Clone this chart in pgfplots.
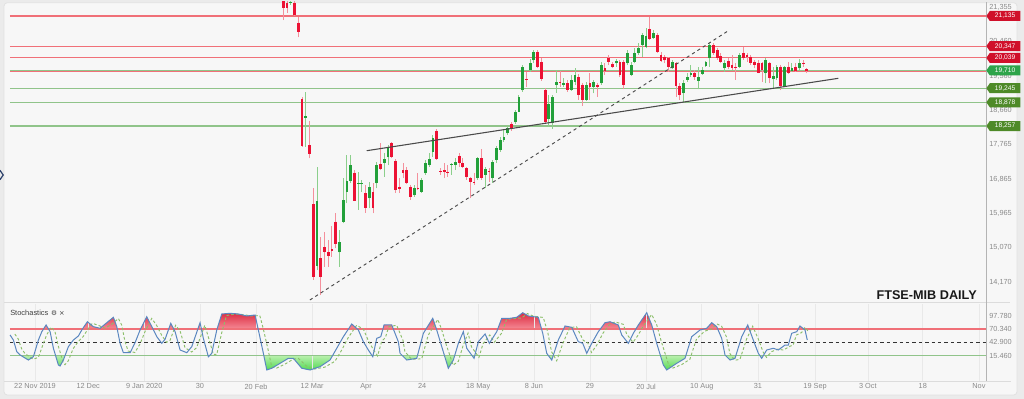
\documentclass[border=0pt]{standalone}
\usepackage{pgfplots}
\pgfplotsset{compat=1.18}
\usepackage{pgfplotstable}
\usepackage{fontspec}
\setmainfont{Liberation Sans}
\newfontfamily\dejavu{DejaVu Sans}
\usetikzlibrary{shapes.symbols}

\definecolor{bgout}{HTML}{EBEBEB}
\definecolor{panel}{HTML}{F7F7F7}
\definecolor{panelborder}{HTML}{E2E2E2}
\definecolor{tickc}{HTML}{8A8A8A}
\definecolor{sepc}{HTML}{DCDCDC}
\definecolor{axisc}{HTML}{B4B4B4}
\definecolor{gridc}{HTML}{E9E9E9}
\definecolor{bodyg}{HTML}{22A03A}
\definecolor{bodyr}{HTML}{EC1234}
\definecolor{wickg}{HTML}{8CCF8C}
\definecolor{wickr}{HTML}{F4909C}
\definecolor{lvred}{HTML}{F07078}
\definecolor{lvgreen}{HTML}{90C48A}
\definecolor{tagred}{HTML}{D0102A}
\definecolor{taggreen}{HTML}{2EA44A}
\definecolor{tagdark}{HTML}{4E8A28}
\definecolor{trend}{HTML}{4A4A4A}
\definecolor{kblue}{HTML}{5B87C0}
\definecolor{dgreen}{HTML}{8CBF6A}
\definecolor{redtop}{HTML}{DC2C42}
\definecolor{redbot}{HTML}{F58A95}
\definecolor{greentop}{HTML}{B8F0AC}
\definecolor{greenbot}{HTML}{55DA55}
\definecolor{navy}{HTML}{2A3F6A}

% gradients mapped onto the value range of the %K path (-13.9 .. 103.8)
\pgfdeclareverticalshading{redgrad}{100bp}{color(0bp)=(redbot); color(60.8bp)=(redbot); color(75bp)=(redtop); color(100bp)=(redtop)}
\pgfdeclareverticalshading{greengrad}{100bp}{color(0bp)=(greenbot); color(25bp)=(greenbot); color(37.5bp)=(greentop); color(100bp)=(greentop)}

\newcommand\ticksize{\fontsize{5.5}{6}\selectfont}

% daily candles: index, open, high, low, close
\pgfplotstableread{
i O H L C
67 21800 21950 21030 21344
68 21483 21554 21221 21336
69 21475 21600 21423 21501
70 21483 21554 21135 21161
71 20960 21117 20578 20724
72 18964 19024 17716 17742
73 18467 19147 17716 18506
74 17760 18396 17412 17525
75 16217 16628 14229 14315
76 14603 17193 14490 16303
77 14796 15346 13836 14300
78 15084 15492 14577 14953
79 14953 15275 14577 14864
80 15027 15642 14838 14999
81 15754 15974 15058 15163
82 14953 15537 14577 15231
83 15754 16889 15712 16322
84 16539 17499 16235 16819
85 16819 17499 16766 17237
86 17036 17106 16296 16303
87 16740 17062 16060 16766
88 16753 16845 16539 16779
89 16497 16714 15989 16104
90 16366 16800 16104 16670
91 16539 16758 15974 16104
92 16758 17324 16628 17237
93 17263 17805 17106 17125
94 17297 17543 16931 17386
95 17439 17760 17237 17700
96 17805 17847 17412 17439
97 17350 17386 16513 16583
98 16670 16889 16513 16601
99 17106 17282 16889 17036
100 17106 17193 16740 16758
101 16670 16714 16322 16392
102 16452 16714 16408 16628
103 16641 17020 16583 16609
104 16539 16889 16513 16845
105 17020 17368 16976 17297
106 17237 17543 17193 17386
107 17585 18022 17454 17936
108 18127 18171 17368 17386
109 17080 17151 16976 17046
110 17106 17282 16889 17062
111 17062 17237 16931 17020
112 17250 17297 16976 17276
113 17237 17412 17106 17324
114 17473 17543 17193 17297
115 17282 17412 17151 17193
116 17151 17193 16845 16931
117 16889 16931 16366 16800
118 16800 17020 16714 16758
119 16889 17454 16845 17412
120 17412 17648 16845 16889
121 16976 17193 16628 17125
122 17080 17151 16800 17041
123 16889 17368 16774 17324
124 17368 17734 17289 17682
125 17630 17970 17577 17891
126 17891 18153 17839 17978
127 18066 18257 18022 18197
128 18310 18362 18127 18179
129 18349 18676 18310 18631
130 18631 19068 18624 19016
131 19191 19853 19155 19788
132 19492 19678 19286 19466
133 19722 20002 19678 19913
134 19976 20246 19898 20201
135 20201 20233 19767 19788
136 19926 20028 19442 19492
137 19212 19244 18323 18362
138 18441 19068 18239 18833
139 18328 19068 18179 19024
140 19338 19704 19129 19403
141 19416 19704 19286 19374
142 19330 19505 19286 19374
143 19374 19461 19155 19199
144 19199 19592 19181 19461
145 19416 19767 19330 19592
146 19539 19618 18938 19068
147 19330 19374 18781 18938
148 18938 19416 18919 19330
149 19374 19636 18938 19286
150 19286 19461 19113 19416
151 19330 19390 19024 19270
152 19374 19940 19330 19853
153 19767 19898 19592 19704
154 20028 20115 19853 19940
155 19879 19940 19767 19809
156 19898 20002 19809 19966
157 19940 19984 19547 19592
158 19940 19984 19218 19330
159 19898 20246 19853 20159
160 19592 19940 19565 19853
161 19940 20290 19898 20159
162 20159 20421 20115 20290
163 20376 20683 20070 20638
164 20332 20813 20290 20612
165 20787 21117 20507 20525
166 20552 20769 20525 20683
167 20638 20683 20175 20201
168 20115 20201 19940 19966
169 20070 20115 19898 19984
170 20028 20070 19678 19809
171 19767 19984 19741 19940
172 19913 19940 19024 19304
173 19304 19374 18938 19068
174 19113 19461 18893 19374
175 19461 19636 19416 19547
176 19592 19853 19547 19652
177 19652 19722 19461 19531
178 19442 19809 19218 19547
179 19618 19809 19592 19722
180 19827 19966 19809 19940
181 20028 20421 19809 20376
182 20376 20421 20115 20159
183 20246 20290 19984 20028
184 20089 20159 19898 19940
185 19767 19984 19678 19898
186 19966 20028 19741 19809
187 19853 20115 19722 19767
188 19809 19898 19461 19767
189 19809 20175 19767 20115
190 20175 20332 19984 20028
191 20115 20175 19940 20070
192 20070 20115 19853 19898
193 19940 19984 19767 19853
194 19913 19984 19636 19652
195 19898 19940 19416 19722
196 19636 20028 19374 19984
197 19913 19940 19374 19505
198 19479 19809 19244 19565
199 19505 19853 19461 19809
200 19809 19853 19199 19304
201 19304 19827 19270 19809
202 19809 19940 19618 19652
203 19704 19898 19678 19767
204 19809 19898 19678 19704
205 19767 20002 19722 19913
206 19913 19984 19809 19879
207 19736 19767 19636 19709
}\candles

% stochastic %K
\pgfplotstableread{
x v
-6.07 58.0
-5.19 47.7
-4.28 23.7
-3.40 16.9
-1.18 6.6
0.16 13.4
1.50 47.7
2.41 64.8
3.56 78.6
4.63 64.8
5.51 30.7
6.84 -3.6
7.30 -5.7
8.18 6.6
9.52 34.0
10.86 47.7
12.19 56.0
13.10 68.3
14.60 85.3
16.20 75.1
17.99 71.8
19.79 83.3
21.55 94.4
22.46 75.1
23.34 40.9
24.22 21.6
26.02 21.6
27.35 42.2
28.69 68.3
30.48 95.6
31.82 75.1
33.16 54.5
34.49 40.9
35.37 49.2
36.90 82.1
38.05 64.8
39.39 27.2
41.18 21.6
42.51 34.0
44.73 83.3
45.61 51.2
46.95 13.4
47.86 20.4
49.20 68.3
50.53 101.2
52.75 102.6
54.97 101.2
57.22 97.1
59.44 99.1
60.32 68.3
61.66 20.4
62.57 -13.9
63.90 -10.4
66.12 -0.2
68.34 10.1
69.68 10.1
71.93 -10.4
74.14 -13.9
76.82 -7.1
79.49 6.6
81.28 30.7
83.05 54.5
85.29 80.6
87.06 68.3
88.40 44.2
89.73 27.2
90.91 13.4
91.98 51.2
93.05 54.5
93.93 78.6
95.99 78.6
97.75 44.2
98.21 20.4
100.00 6.6
102.67 10.1
104.44 61.5
106.95 92.3
108.02 68.3
109.36 34.0
111.12 -10.4
112.46 6.6
113.80 40.9
115.13 64.8
116.04 30.7
118.00 10.1
119.14 44.2
120.94 60.1
122.09 40.9
124.06 64.8
125.40 92.3
127.62 92.3
129.41 94.4
131.02 103.8
132.51 97.1
135.19 94.4
136.36 61.5
137.43 20.4
138.77 6.6
140.53 47.7
142.33 76.5
144.12 73.8
145.88 44.2
147.06 40.9
148.13 20.4
149.47 40.9
151.23 64.8
153.02 83.3
154.36 85.3
156.58 78.6
157.49 58.0
159.25 40.9
160.59 61.5
161.93 78.6
164.17 103.8
165.51 78.6
166.84 40.9
168.61 -3.6
169.52 -13.9
172.19 -0.2
174.41 10.1
176.20 54.5
178.42 68.3
180.21 71.8
181.55 83.3
182.89 75.1
184.22 51.2
185.11 16.9
186.44 6.6
187.78 10.1
189.57 54.5
191.18 78.6
192.67 47.7
194.01 20.4
194.92 10.1
196.26 27.2
198.02 30.7
199.36 27.2
201.15 37.4
202.03 37.4
202.94 61.5
204.28 64.8
205.16 76.5
206.50 68.3
207.11 47.7
}\stochK

% stochastic %D
\pgfplotstableread{
x v
-4.8 60
-3.9 50
-3.0 30
-2.1 20
0.1 8
1.5 12
2.8 40
3.7 58
4.9 74
5.9 66
6.8 36
8.1 2
8.6 -3
9.5 5
10.8 30
12.2 45
13.5 55
14.4 66
15.9 82
17.5 78
19.3 72
21.1 80
22.9 92
23.8 78
24.6 46
25.5 25
27.3 22
28.7 40
30.0 65
31.8 92
33.1 78
34.5 57
35.8 43
36.7 47
38.2 78
39.4 66
40.7 32
42.5 23
43.8 32
46.0 78
46.9 55
48.3 18
49.2 18
50.5 62
51.8 98
54.0 101
56.3 100
58.5 97
60.7 98
61.6 72
63.0 25
63.9 -8
65.2 -10
67.4 -2
69.6 8
71.0 10
73.2 -6
75.4 -12
78.1 -8
80.8 4
82.6 27
84.3 52
86.6 78
88.4 70
89.7 47
91.0 29
92.2 15
93.3 45
94.3 53
95.2 75
97.3 78
99.0 47
99.5 24
101.3 8
104.0 9
105.7 57
108.3 90
109.3 70
110.6 37
112.4 -4
113.8 4
115.1 37
116.4 62
117.3 34
119.3 12
120.4 40
122.2 58
123.4 43
125.4 62
126.7 90
128.9 92
130.7 93
132.3 102
133.8 97
136.5 94
137.7 64
138.7 24
140.1 5
141.8 42
143.6 73
145.4 75
147.2 47
148.4 42
149.4 22
150.8 37
152.5 62
154.3 80
155.7 85
157.9 80
158.8 60
160.5 43
161.9 58
163.2 76
165.5 100
166.8 80
168.1 44
169.9 0
170.8 -11
173.5 -3
175.7 8
177.5 50
179.7 66
181.5 70
182.9 81
184.2 76
185.5 54
186.4 20
187.7 6
189.1 8
190.9 50
192.5 76
194.0 50
195.3 23
196.2 12
197.6 24
199.3 29
200.7 27
202.5 35
203.3 37
204.2 58
205.6 63
206.5 74
207.3 66
}\stochD

\begin{document}
\begin{tikzpicture}[x=1pt,y=1pt]
\useasboundingbox (0,0) rectangle (768,299.25);
\fill[bgout] (0,0) rectangle (768,299.25);
\fill[panel, draw=panelborder, line width=0.6pt, rounded corners=2.5pt] (3,3) rectangle (762.75,297.2);
% left nav chevron
\draw[navy, line width=0.9pt] (0,171.5) -- (2.4,168) -- (0,164.5);

% ---------------- main price panel ----------------
\begin{axis}[
  at={(3pt,72.75pt)}, anchor=south west, scale only axis,
  width=736.5pt, height=225pt,
  xmin=-7.7, xmax=254.9, ymin=13653.3, ymax=21501.3,
  clip mode=individual,
  axis line style={draw=none}, tick style={draw=none},
  xtick=\empty,
  ytick={14170,15070,15965,16865,17765,18660,19560,20460,21355},
  yticklabels={{14,170},{15,070},{15,965},{16,865},{17,765},{18,660},{19,560},{20,460},{21,355}},
  yticklabel pos=right,
  yticklabel style={font=\ticksize, text=tickc, anchor=west, inner sep=0pt, xshift=2.3pt},
]
% horizontal levels
\addplot[lvred, line width=0.8pt] coordinates {(-6.1,21135) (254.9,21135)};
\addplot[lvred, line width=0.8pt] coordinates {(-6.1,20347) (254.9,20347)};
\addplot[lvred, line width=0.8pt] coordinates {(-6.1,20039) (254.9,20039)};
\addplot[lvred, line width=0.8pt] coordinates {(-6.1,19680) (254.9,19680)};
\addplot[lvgreen, line width=0.8pt] coordinates {(-6.1,19710) (254.9,19710)};
\addplot[lvgreen, line width=0.8pt] coordinates {(-6.1,19245) (254.9,19245)};
\addplot[lvgreen, line width=0.8pt] coordinates {(-6.1,18878) (254.9,18878)};
\addplot[lvgreen, line width=0.8pt] coordinates {(-6.1,18257) (254.9,18257)};
% wicks
\addplot[wickg, line width=0.75pt, quiver={u=0, v=\thisrow{H}-\thisrow{L}},
  x filter/.expression={\thisrow{C}>=\thisrow{O} ? x : nan}] table[x=i, y=L] {\candles};
\addplot[wickr, line width=0.75pt, quiver={u=0, v=\thisrow{H}-\thisrow{L}},
  x filter/.expression={\thisrow{C}<\thisrow{O} ? x : nan}] table[x=i, y=L] {\candles};
% bodies
\addplot[bodyg, line width=2.1pt, quiver={u=0, v=\thisrow{C}-\thisrow{O}},
  x filter/.expression={\thisrow{C}>=\thisrow{O} ? x : nan}] table[x=i, y=O] {\candles};
\addplot[bodyr, line width=2.1pt, quiver={u=0, v=\thisrow{C}-\thisrow{O}},
  x filter/.expression={\thisrow{C}<\thisrow{O} ? x : nan}] table[x=i, y=O] {\candles};
% trend lines
\addplot[trend, line width=0.8pt] coordinates {(89.3,17611) (215.4,19505)};
\addplot[trend, line width=0.7pt, dash pattern=on 2.4pt off 2.4pt] coordinates {(74.1,13706) (186.3,20769)};
% tag anchors
\coordinate (t1) at (axis cs:254.9,21135);
\coordinate (t2) at (axis cs:254.9,20347);
\coordinate (t3) at (axis cs:254.9,20039);
\coordinate (t4) at (axis cs:254.9,19710);
\coordinate (t5) at (axis cs:254.9,19245);
\coordinate (t6) at (axis cs:254.9,18878);
\coordinate (t7) at (axis cs:254.9,18257);
\node[anchor=east, font=\fontsize{9.5}{10}\selectfont\bfseries, text=black!90, inner sep=0pt] at (rel axis cs:0.9908,0.022) {FTSE-MIB DAILY};
\end{axis}

% ---------------- stochastic fills (clipped by their own axes) ----------------
\begin{axis}[
  at={(3pt,52.5pt)}, anchor=south west, scale only axis,
  width=736.5pt, height=18.75pt,
  xmin=-7.7, xmax=254.9, ymin=70.34, ymax=121.73,
  axis lines=none,
]
\addplot[draw=none, shade, shading=redgrad] table[x=x, y=v] {\stochK};
\end{axis}
\begin{axis}[
  at={(3pt,13.5pt)}, anchor=south west, scale only axis,
  width=736.5pt, height=18.975pt,
  xmin=-7.7, xmax=254.9, ymin=-36.54, ymax=15.46,
  axis lines=none,
]
\addplot[draw=none, shade, shading=greengrad] table[x=x, y=v] {\stochK};
\end{axis}

% ---------------- stochastic lines ----------------
\begin{axis}[
  at={(3pt,13.5pt)}, anchor=south west, scale only axis,
  width=736.5pt, height=57.75pt,
  xmin=-7.7, xmax=254.9, ymin=-36.54, ymax=121.73,
  clip mode=individual,
  axis line style={draw=none}, tick style={draw=none},
  xtick={0.6,14.8,29.8,44.7,59.7,74.7,89.1,104.1,119.1,134.0,149.0,164.0,178.9,193.9,209.2,223.3,238.0,253.0},
  xticklabels={22 Nov 2019,12 Dec,9 Jan 2020,30,20 Feb,12 Mar,Apr,24,18 May,8 Jun,29,20 Jul,10 Aug,31,19 Sep,3 Oct,18,Nov},
  xticklabel style={font=\ticksize, text=tickc, inner sep=0pt, yshift=-1.9pt},
  xmajorgrids, grid style={gridc, line width=0.5pt},
  ytick={15.46,42.9,70.34,97.78},
  yticklabels={15.460,42.900,70.340,97.780},
  yticklabel pos=right,
  yticklabel style={font=\ticksize, text=tickc, anchor=west, inner sep=0pt, xshift=2.3pt},
]
\addplot[lvred, line width=0.8pt] coordinates {(-6.1,70.34) (254.9,70.34)};
\addplot[lvgreen, line width=0.8pt] coordinates {(-6.1,15.46) (254.9,15.46)};
\addplot[black!80, line width=0.7pt, dash pattern=on 2.6pt off 2.2pt] coordinates {(-6.1,42.9) (254.9,42.9)};
\addplot[dgreen, line width=0.7pt, dash pattern=on 2pt off 1.6pt] table[x=x, y=v] {\stochD};
\addplot[kblue, line width=0.75pt] table[x=x, y=v] {\stochK};
\node[anchor=west, inner sep=0pt, font=\fontsize{5.6}{6}\selectfont, text=black!75] at (rel axis cs:0.0061,0.883)
  {Stochastics\hspace{2pt}{\dejavu\fontsize{5}{5}\selectfont ⚙\hspace{1.5pt}×}};
\end{axis}

% panel frame lines
\draw[sepc, line width=1.2pt] (3,72.3) -- (757.5,72.3);
\draw[sepc, line width=0.7pt] (3,13.5) -- (758,13.5);
\draw[axisc, line width=0.7pt] (739.5,297.5) -- (739.5,13.5);

% level tags
\tikzset{tag/.style={signal, signal to=west, signal pointer angle=110, anchor=west,
  minimum height=7.5pt, minimum width=25.5pt, inner xsep=1pt, inner ysep=0pt,
  text=white, font=\fontsize{5}{5}\selectfont}}
\node[tag, fill=tagred] at (t1) {21,135};
\node[tag, fill=tagred] at (t2) {20,347};
\node[tag, fill=tagred] at (t3) {20,039};
\node[tag, fill=taggreen] at (t4) {19,710};
\node[tag, fill=tagdark] at (t5) {19,245};
\node[tag, fill=tagdark] at (t6) {18,878};
\node[tag, fill=tagdark] at (t7) {18,257};
\end{tikzpicture}
\end{document}
